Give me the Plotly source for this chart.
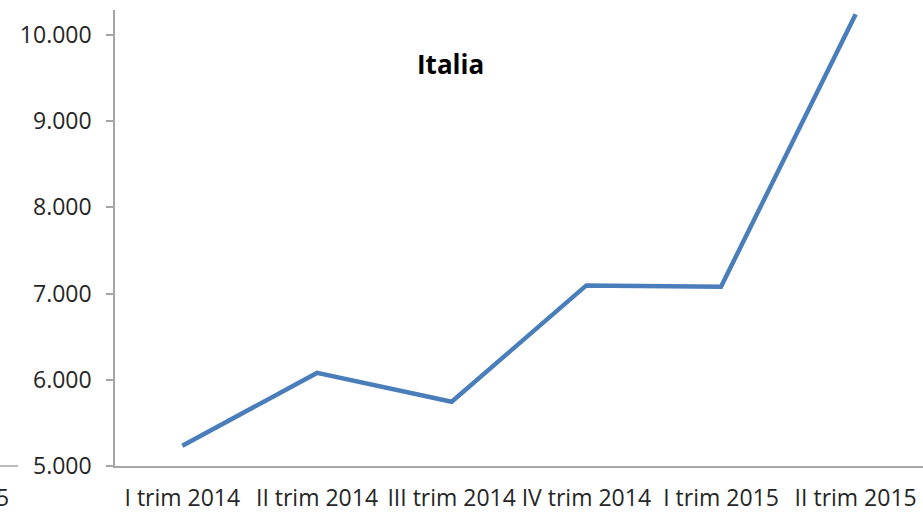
import plotly.graph_objects as go

categories = ["I trim 2014", "II trim 2014", "III trim 2014", "IV trim 2014", "I trim 2015", "II trim 2015"]
values = [5235, 6080, 5745, 7095, 7080, 10240]
y_ticks = [5000, 6000, 7000, 8000, 9000, 10000]
y_tick_labels = ["5.000", "6.000", "7.000", "8.000", "9.000", "10.000"]
title_text = "Italia"

W, H = 923, 513
L, R, T, B = 115, 0, 10, 47
pw, ph = W - L - R, H - T - B
font_family = "Open Sans"

fig = go.Figure()
fig.add_trace(go.Scatter(
    x=list(range(len(categories))), y=values, mode="lines",
    line=dict(color="#4a7ebb", width=4.5),
    hoverinfo="skip", showlegend=False,
))

fig.update_layout(
    width=W, height=H,
    margin=dict(l=L, r=R, t=T, b=B, autoexpand=False),
    paper_bgcolor="white", plot_bgcolor="white",
    showlegend=False,
    font=dict(family=font_family, color="#404040", size=23),
    xaxis=dict(
        range=[-0.5, 5.5], tickmode="array",
        tickvals=list(range(len(categories))), ticktext=categories,
        showgrid=False, zeroline=False, automargin=False,
        showline=True, linecolor="#a6a6a6", linewidth=1.5,
        ticks="", ticklabelstandoff=11,
        tickfont=dict(family=font_family, size=23, color="#262626"),
    ),
    yaxis=dict(
        range=[5000, 10290], tickmode="array",
        tickvals=y_ticks, ticktext=y_tick_labels,
        showgrid=False, zeroline=False, automargin=False,
        showline=True, linecolor="#a6a6a6", linewidth=1.5,
        ticks="outside", ticklen=7, tickcolor="#a6a6a6", tickwidth=1.5,
        ticklabelstandoff=10,
        tickfont=dict(family=font_family, size=23, color="#262626"),
    ),
)

fig.add_annotation(text="<b>" + title_text + "</b>", x=(450 - L) / pw, y=(H - B - 44) / ph,
                   xref="paper", yref="paper", showarrow=False,
                   font=dict(family=font_family, size=26, color="black"))
fig.add_annotation(text="5", x=(11 - L) / pw, y=(H - B - 497) / ph,
                   xref="paper", yref="paper", xanchor="right", yanchor="middle",
                   showarrow=False,
                   font=dict(family=font_family, size=23, color="#262626"))
fig.add_shape(type="line", xref="paper", yref="paper",
              x0=(0 - L) / pw, x1=(18 - L) / pw, y0=0, y1=0,
              line=dict(color="#a6a6a6", width=1.5))

fig.write_html("out.html", config={"displayModeBar": False},
               post_script="document.body.style.margin='0';document.body.style.overflow='hidden';")
